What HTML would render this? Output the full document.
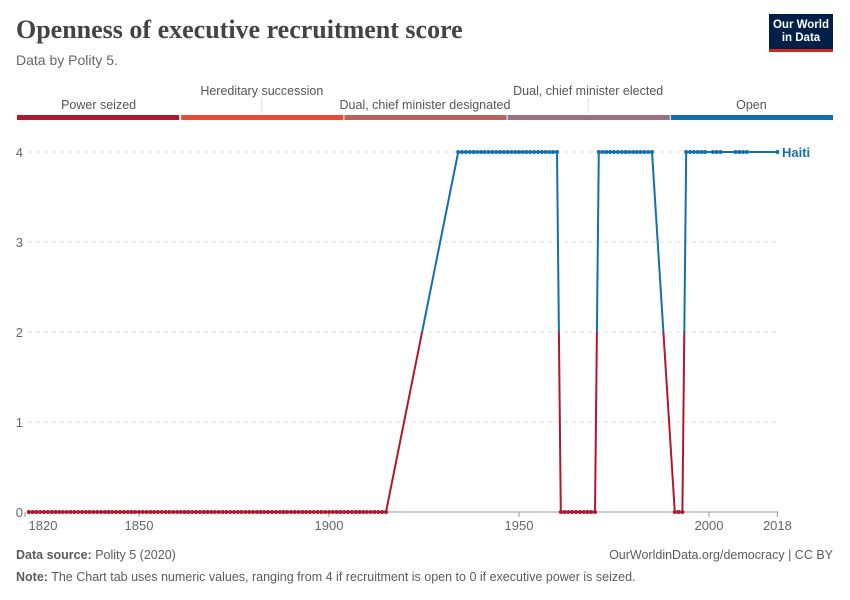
<!DOCTYPE html>
<html><head><meta charset="utf-8"><style>
body{margin:0;background:#fff;font-family:"Liberation Sans",sans-serif;}
#c{position:relative;width:850px;height:600px;overflow:hidden}
.t{position:absolute;white-space:nowrap}
</style></head><body>
<div id="c">
<div class="t" style="left:16px;top:15px;font-family:'Liberation Serif',serif;font-size:26px;font-weight:bold;color:#444">Openness of executive recruitment score</div>
<div class="t" style="left:16px;top:52px;font-size:14px;color:#666">Data by Polity 5.</div>
<div style="position:absolute;left:769px;top:14px;width:64px;height:38px;background:#002147;border-bottom:3px solid #ce261e;color:#fff;font-size:11.5px;font-weight:bold;text-align:center;line-height:13px;padding-top:5px;box-sizing:border-box">Our World<br>in Data</div>
<svg id="s" width="850" height="600" style="position:absolute;left:0;top:0"></svg>
<div class="t" style="left:16px;top:548px;font-size:12.5px;color:#5b5b5b"><b>Data source:</b> Polity 5 (2020)</div>
<div class="t" style="right:17px;top:548px;font-size:12.5px;color:#5b5b5b">OurWorldinData.org/democracy | CC BY</div>
<div class="t" style="left:16px;top:570px;font-size:12.5px;color:#5b5b5b"><b>Note:</b> The Chart tab uses numeric values, ranging from 4 if recruitment is open to 0 if executive power is seized.</div>
</div>
<script>
const legendLabels=["Power seized","Hereditary succession","Dual, chief minister designated","Dual, chief minister elected","Open"];
const legendColors=["#b0182d","#e84a35","#b8625f","#9a7184","#1170ae"];
const yTicks=[0,1,2,3,4];
const xTicks=[1820,1850,1900,1950,2000,2018];
const years=[];const values=[];
function addRange(a,b,v){for(let y=a;y<=b;y++){years.push(y);values.push(v);}}
addRange(1821,1915,0);
addRange(1934,1960,4);
addRange(1961,1970,0);
addRange(1971,1985,4);
addRange(1991,1993,0);
addRange(1994,1999,4);
addRange(2001,2003,4);
addRange(2007,2010,4);
years.push(2018);values.push(4);

const NS="http://www.w3.org/2000/svg";const s=document.getElementById('s');
function el(t,a){const e=document.createElementNS(NS,t);for(const k in a)e.setAttribute(k,a[k]);s.appendChild(e);return e;}
const x=yr=>139+(yr-1850)*3.8;
const y=v=>512-v*90;
const lx0=17,lw=163.2;
legendLabels.forEach((l,i)=>{
 const r=el('rect',{x:lx0+i*lw+(i?1:0),y:115,width:lw-1,height:5,fill:legendColors[i]});
 
 
 const cx=lx0+i*lw+lw/2;const up=(i==1||i==3);
 if(up){const ln=el('line',{x1:cx,x2:cx,y1:98,y2:113,stroke:'#ddd'});}
 const t=el('text',{x:cx,y:up?95:109,'text-anchor':'middle','font-size':12.5,fill:'#555','font-family':'Liberation Sans'});
 t.textContent=l;
 
 
});
yTicks.forEach(v=>{
 const g=el('line',{x1:28,x2:778,y1:y(v),y2:y(v),stroke:v?'#ddd':'#999','stroke-dasharray':v?'4,4':'none'});
 
 
 const t=el('text',{x:23,y:y(v)+5,'text-anchor':'end','font-size':13,fill:'#666','font-family':'Liberation Sans'});
 t.textContent=v;
 
 
});
xTicks.forEach((v,i)=>{
 const tk=el('line',{x1:x(v),x2:x(v),y1:512,y2:517,stroke:'#999'});
 
 
 const t=el('text',{x:i==0?43:x(v),y:530,'text-anchor':'middle','font-size':13,fill:'#666','font-family':'Liberation Sans'});
 t.textContent=v;
 
 
});
const defs=el('defs',{});
defs.innerHTML='<clipPath id="top"><rect x="0" y="0" width="850" height="'+y(2)+'"/></clipPath><clipPath id="bot"><rect x="0" y="'+y(2)+'" width="850" height="200"/></clipPath>';
const d=years.map((yr,i)=>(i?'L':'M')+x(yr)+','+y(values[i])).join('');
[['top','#1170ae'],['bot','#b0182d']].forEach(([c,col])=>{
 const g=el('g',{'clip-path':'url(#'+c+')'});
 
 
 const p=document.createElementNS(NS,'path');
 p.setAttribute('d',d);p.setAttribute('fill','none');p.setAttribute('stroke',col);p.setAttribute('stroke-width',2);
 
 
 g.appendChild(p);
 years.forEach((yr,i)=>{const ci=document.createElementNS(NS,'circle');
  ci.setAttribute('cx',x(yr));ci.setAttribute('cy',y(values[i]));ci.setAttribute('r',2);ci.setAttribute('fill',col);
  
  
  g.appendChild(ci);});
 s.appendChild(g);
});
const hl=el('text',{x:782,y:157,'font-size':13,fill:'#1170ae','font-family':'Liberation Sans','font-weight':'bold'});
hl.textContent='Haiti';


</script>
</body></html>
